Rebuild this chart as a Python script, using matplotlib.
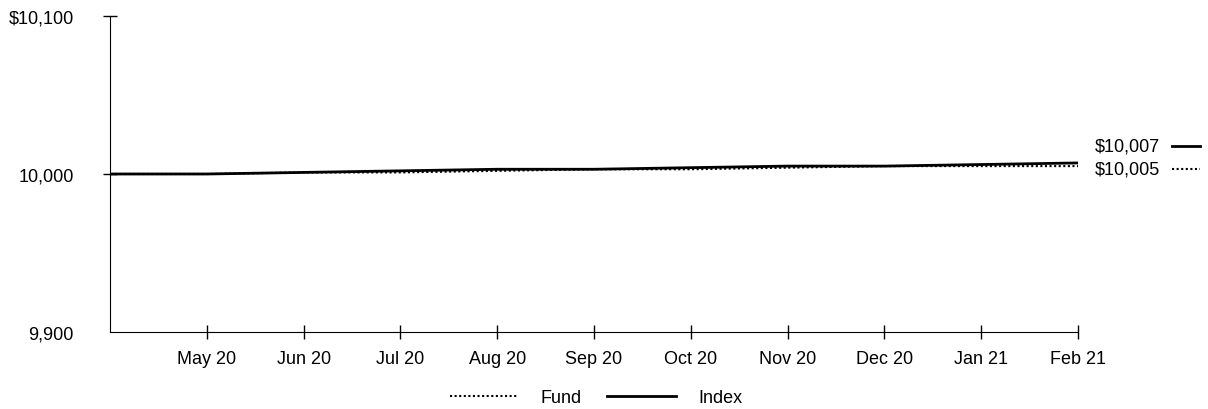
import matplotlib.pyplot as plt

plt.rcParams['font.family'] = ['Liberation Sans', 'DejaVu Sans']

months = ['Apr 20', 'May 20', 'Jun 20', 'Jul 20', 'Aug 20', 'Sep 20',
          'Oct 20', 'Nov 20', 'Dec 20', 'Jan 21', 'Feb 21']
fund = [10000, 10000, 10001, 10001, 10002, 10003, 10003, 10004, 10005, 10005, 10005]
index = [10000, 10000, 10001, 10002, 10003, 10003, 10004, 10005, 10005, 10006, 10007]
yticks = [9900, 10000, 10100]
ylabels = ['9,900', '10,000', '$10,100']

FS = 13
fig = plt.figure(figsize=(12.08, 4.10), dpi=100)
ax = fig.add_axes([110 / 1208, 77 / 410, 968 / 1208, 316 / 410])

x = list(range(len(months)))
ax.plot(x, fund, color='black', lw=1.5, ls=(0, (1, 1.2)), label='Fund')
ax.plot(x, index, color='black', lw=2.0, label='Index')

ax.set_xlim(0, len(months) - 1)
ax.set_ylim(9900, 10100)
ax.set_xticks(x[1:])
ax.set_xticklabels(months[1:])
ax.set_yticks(yticks)
ax.set_yticklabels(ylabels)
ax.tick_params(axis='both', direction='inout', length=10, width=1, labelsize=FS)
ax.tick_params(axis='y', pad=21)
ax.tick_params(axis='x', pad=8)
# no tick mark at the origin corner
ax.yaxis.get_major_ticks()[0].tick1line.set_visible(False)
for s in ['top', 'right']:
    ax.spines[s].set_visible(False)

# end-of-series value labels with line samples
def fmt(v):
    return '${:,}'.format(v)

ax.annotate(fmt(index[-1]), xy=(x[-1], index[-1]), xycoords='data',
            xytext=(1095, 410 - 147), textcoords='figure pixels',
            fontsize=FS, va='center', ha='left', annotation_clip=False)
ax.annotate(fmt(fund[-1]), xy=(x[-1], fund[-1]), xycoords='data',
            xytext=(1095, 410 - 170), textcoords='figure pixels',
            fontsize=FS, va='center', ha='left', annotation_clip=False)
fig.add_artist(plt.Line2D([1172 / 1208, 1200 / 1208], [(410 - 147) / 410] * 2,
                          color='black', lw=2.0))
fig.add_artist(plt.Line2D([1172 / 1208, 1200 / 1208], [(410 - 170) / 410] * 2,
                          color='black', lw=1.5, ls=(0, (1, 1.2))))

fig.legend(loc='center', ncol=2, frameon=False, fontsize=FS,
           bbox_to_anchor=(0.4935, 11 / 410), handlelength=3.8, columnspacing=1.4,
           handletextpad=1.25)

fig.savefig('out.png', dpi=100)
